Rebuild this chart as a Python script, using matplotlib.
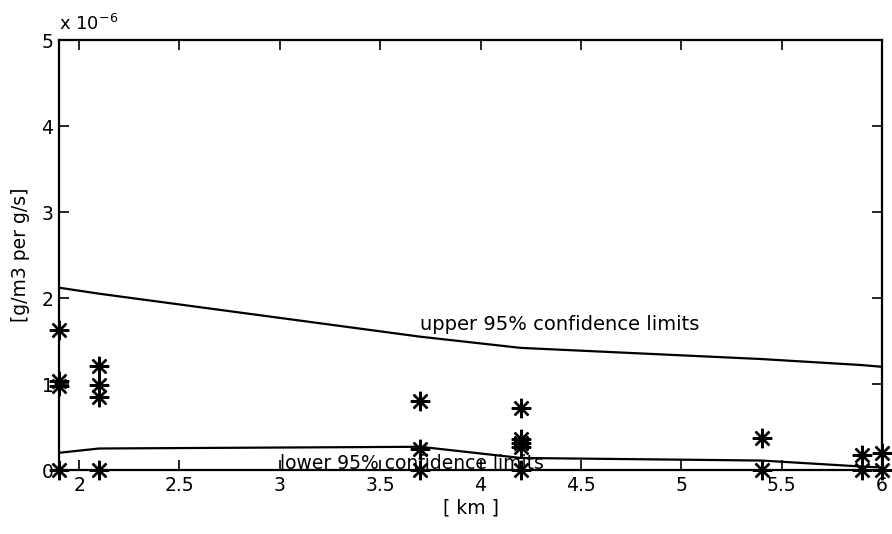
import numpy as np
import matplotlib
matplotlib.use("Agg")
import matplotlib.pyplot as plt

plt.rcParams["font.family"] = ["DejaVu Sans"]

# ==========================================
# Data (values in units of 1e-6 g/m3 per g/s)
# ==========================================

obs_km = [1.9, 1.9, 1.9, 1.9,
          2.1, 2.1, 2.1, 2.1,
          3.7, 3.7, 3.7,
          4.2, 4.2, 4.2, 4.2, 4.2,
          5.4, 5.4,
          5.9, 5.9,
          6.0, 6.0]
obs_conc = [1.63, 1.04, 0.98, 0.0,
            1.21, 0.99, 0.85, 0.0,
            0.80, 0.24, 0.0,
            0.72, 0.36, 0.31, 0.27, 0.0,
            0.37, 0.0,
            0.18, 0.0,
            0.20, 0.0]

limit_km = [1.9, 2.1, 3.7, 4.2, 5.4, 5.9, 6.0]
upper_limit = [2.12, 2.05, 1.55, 1.42, 1.29, 1.22, 1.20]
lower_limit = [0.20, 0.25, 0.27, 0.14, 0.11, 0.04, 0.03]

x_ticks = [2, 2.5, 3, 3.5, 4, 4.5, 5, 5.5, 6]
x_tick_labels = ["2", "2.5", "3", "3.5", "4", "4.5", "5", "5.5", "6"]
y_ticks = [0, 1, 2, 3, 4, 5]

# ==========================================
# Plot
# ==========================================

fig = plt.figure(figsize=(8.92, 5.34), dpi=100)
ax = fig.add_axes([59 / 892, 64 / 534, (882 - 59) / 892, (470 - 40) / 534])

ax.plot(limit_km, upper_limit, color="black", linewidth=1.6)
ax.plot(limit_km, lower_limit, color="black", linewidth=1.6)
ax.plot(obs_km, obs_conc, linestyle="none", marker=(8, 2, 0),
        markersize=14, markeredgewidth=1.7, color="black", clip_on=False)

ax.text(3.7, 1.69, "upper 95% confidence limits", fontsize=14,
        va="center", ha="left")
ax.text(3.0, 0.08, "lower 95% confidence limits", fontsize=13.5,
        va="center", ha="left")

ax.set_xlim(1.9, 6.0)
ax.set_ylim(0, 5)
ax.set_xticks(x_ticks)
ax.set_xticklabels(x_tick_labels)
ax.set_yticks(y_ticks)
ax.tick_params(direction="in", length=7, width=1.2, top=True, right=True,
               labelsize=13.5, pad=4)
for side in ax.spines.values():
    side.set_linewidth(1.6)

ax.text(0.0, 1.015, r"x 10$^{-6}$", transform=ax.transAxes, fontsize=13,
        ha="left", va="bottom")

ax.set_xlabel("[ km ]", fontsize=13.5, labelpad=3)
ax.set_ylabel("[g/m3 per g/s]", fontsize=13.5, labelpad=8)

fig.savefig("out.png", dpi=100)
